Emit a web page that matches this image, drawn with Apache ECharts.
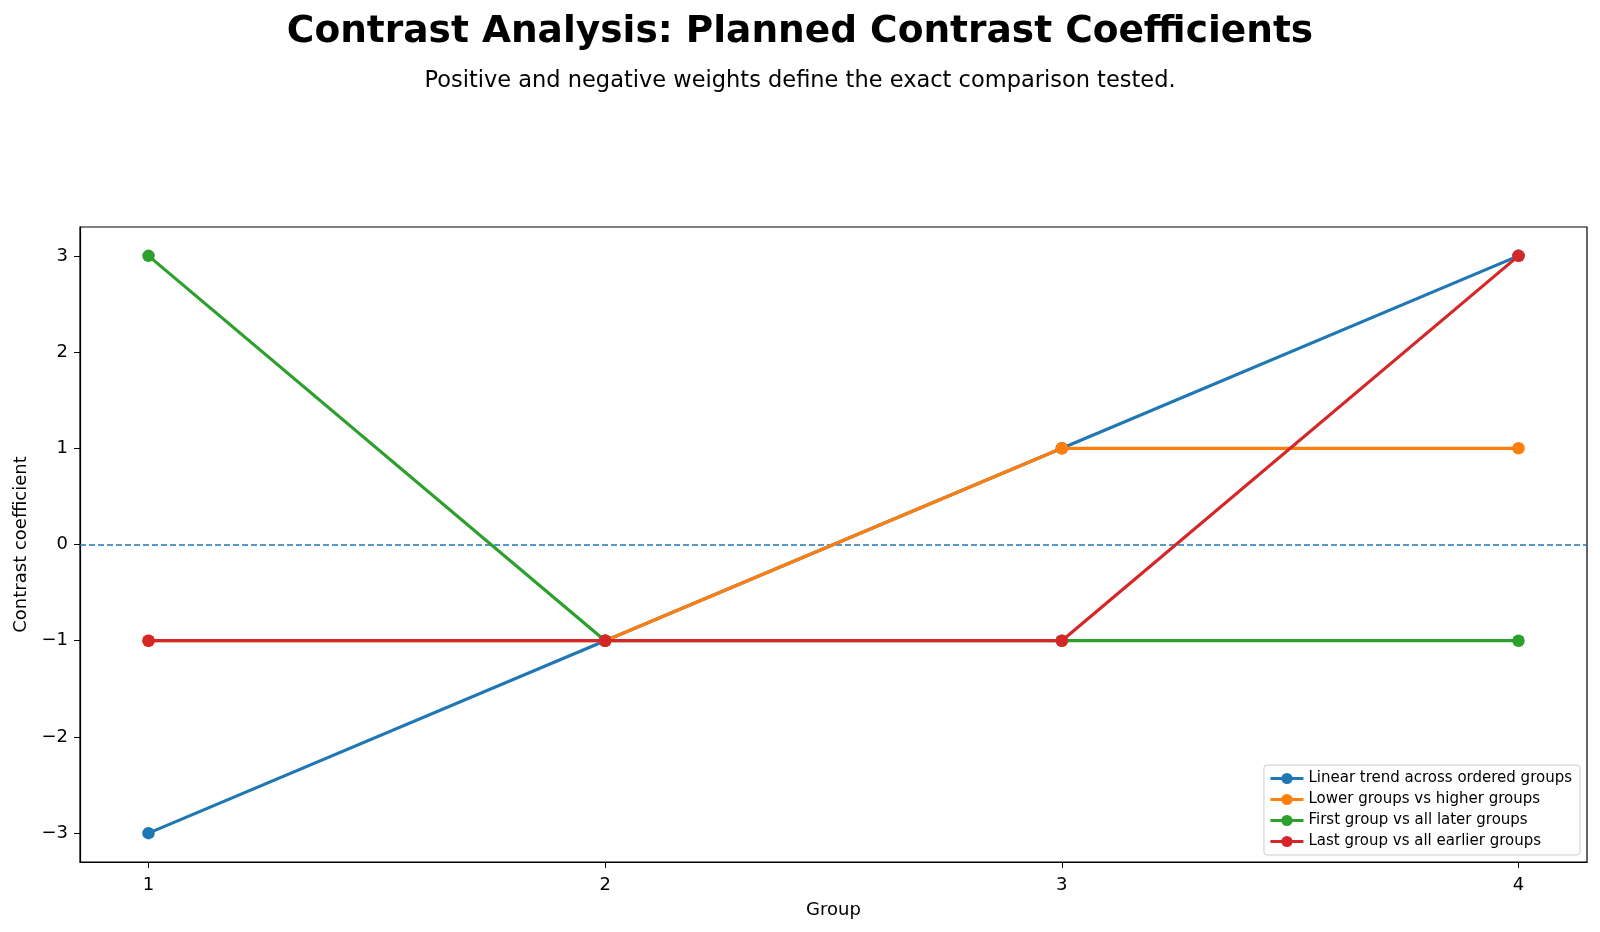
<!DOCTYPE html>
<html>
<head>
<meta charset="utf-8">
<script src="https://cdn.jsdelivr.net/npm/echarts@6/dist/echarts.min.js"></script>
<style>
  html, body { margin: 0; padding: 0; background: #fff; }
  #chart { width: 1600px; height: 932px; }
</style>
</head>
<body>
<div id="chart"></div>
<script>
// data
var groups = [1, 2, 3, 4];
var yTicks = [-3, -2, -1, 0, 1, 2, 3];
var seriesNames = [
  'Linear trend across ordered groups',
  'Lower groups vs higher groups',
  'First group vs all later groups',
  'Last group vs all earlier groups'
];
var linearTrend = [-3, -1, 1, 3];
var lowerVsHigher = [-1, -1, 1, 1];
var firstVsLater = [3, -1, -1, -1];
var lastVsEarlier = [-1, -1, -1, 3];
var colors = ['#1f77b4', '#ff7f0e', '#2ca02c', '#d62728'];

var allValues = [linearTrend, lowerVsHigher, firstVsLater, lastVsEarlier];

function pairs(vals) {
  return groups.map(function (g, i) { return [g, vals[i]]; });
}

var font = 'DejaVu Sans';
var chart = echarts.init(document.getElementById('chart'));

var series = allValues.map(function (vals, i) {
  var s = {
    name: seriesNames[i],
    type: 'line',
    data: pairs(vals),
    symbol: 'circle',
    symbolSize: 12.5,
    color: colors[i],
    lineStyle: { width: 3.2, color: colors[i] },
    itemStyle: { color: colors[i] },
    emphasis: { disabled: true },
    z: 3 + i,
    animation: false
  };
  if (i === 0) {
    // dashed zero line
    s.markLine = {
      silent: true,
      symbol: 'none',
      label: { show: false },
      lineStyle: { type: [6, 3], width: 1.6, color: '#1f77b4', opacity: 1 },
      emphasis: { disabled: true },
      data: [{ yAxis: 0 }],
      z: 1
    };
  }
  return s;
});

chart.setOption({
  backgroundColor: '#fff',
  textStyle: { fontFamily: font },
  title: [{
    text: 'Contrast Analysis: Planned Contrast Coefficients',
    left: 'center',
    top: 8,
    textStyle: { fontFamily: font, fontSize: 37.5, fontWeight: 'bold', color: '#000' }
  }, {
    text: 'Positive and negative weights define the exact comparison tested.',
    left: 'center',
    top: 65,
    textStyle: { fontFamily: font, fontSize: 22.5, fontWeight: 'normal', color: '#000' }
  }],
  legend: {
    orient: 'vertical',
    right: 20,
    bottom: 77,
    itemWidth: 33,
    itemHeight: 14,
    itemGap: 6,
    padding: [6, 8, 6, 5],
    borderColor: '#ccc',
    borderWidth: 1,
    borderRadius: 3,
    backgroundColor: 'rgba(255,255,255,0.8)',
    lineStyle: { width: 3 },
    textStyle: { fontFamily: font, fontSize: 15, color: '#000' },
    data: seriesNames
  },
  grid: {
    left: 80,
    right: 13,
    top: 227,
    bottom: 70,
    show: true,
    borderColor: '#000',
    borderWidth: 1.2
  },
  xAxis: {
    type: 'value',
    min: 0.85,
    max: 4.15,
    name: 'Group',
    nameLocation: 'middle',
    nameGap: 39,
    nameTextStyle: { fontFamily: font, fontSize: 18, color: '#000' },
    axisLine: { show: true, onZero: false, lineStyle: { color: '#000', width: 1.2 } },
    axisTick: { show: true, length: 6, customValues: groups, lineStyle: { color: '#000' } },
    axisLabel: { customValues: groups, fontFamily: font, fontSize: 18, color: '#000', margin: 14 },
    splitLine: { show: false }
  },
  yAxis: {
    type: 'value',
    min: -3.3,
    max: 3.3,
    name: 'Contrast coefficient',
    nameLocation: 'middle',
    nameGap: 48,
    nameRotate: 90,
    nameTextStyle: { fontFamily: font, fontSize: 18, color: '#000' },
    axisLine: { show: true, onZero: false, lineStyle: { color: '#000', width: 1.2 } },
    axisTick: { show: true, length: 6, customValues: yTicks, lineStyle: { color: '#000' } },
    axisLabel: {
      customValues: yTicks,
      fontFamily: font, fontSize: 18, color: '#000', margin: 12,
      formatter: function (v) { return v < 0 ? '\u2212' + Math.abs(v) : String(v); }
    },
    splitLine: { show: false }
  },
  series: series
});
</script>
</body>
</html>
